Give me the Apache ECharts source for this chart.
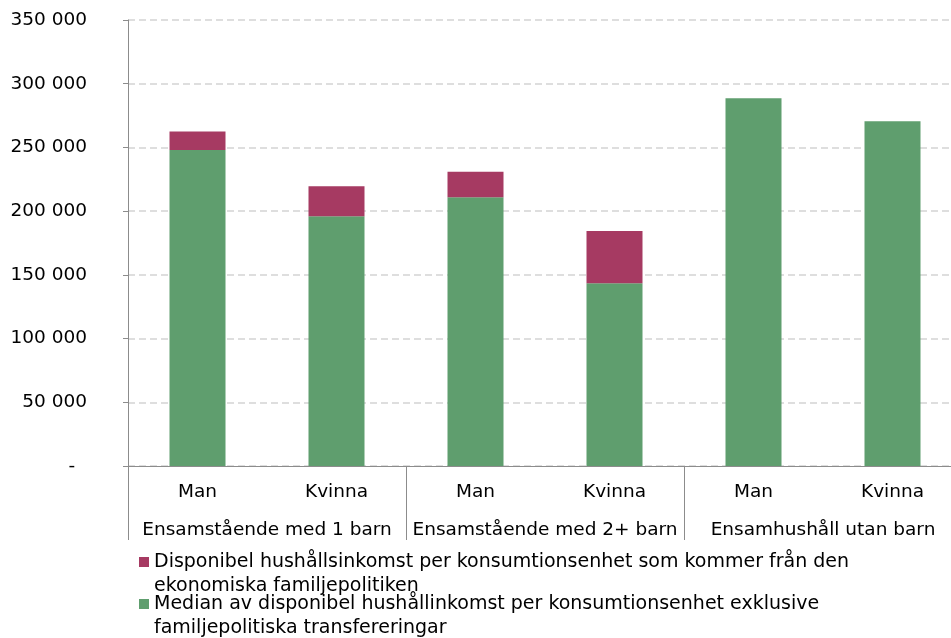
<!DOCTYPE html>
<html>
<head>
<meta charset="utf-8">
<script src="https://cdn.jsdelivr.net/npm/echarts@6/dist/echarts.min.js"></script>
<style>
  html, body { margin: 0; padding: 0; background: #fff; overflow: hidden; }
  /* a bit wider than the window: the reference plot runs past the right edge */
  #chart { width: 962px; height: 638px; }
</style>
</head>
<body>
<div id="chart"></div>
<script>
// data
const categories = ['Man', 'Kvinna', 'Man', 'Kvinna', 'Man', 'Kvinna']
const groups = ['Ensamstående med 1 barn', 'Ensamstående med 2+ barn', 'Ensamhushåll utan barn']
const seriesNames = [
  'Disponibel hushållsinkomst per konsumtionsenhet som kommer från den ekonomiska familjepolitiken',
  'Median av disponibel hushållinkomst per konsumtionsenhet exklusive familjepolitiska transfereringar'
]
const legendLabels = [
  'Disponibel hushållsinkomst per konsumtionsenhet som kommer från den\nekonomiska familjepolitiken',
  'Median av disponibel hushållinkomst per konsumtionsenhet exklusive\nfamiljepolitiska transfereringar'
]
const familyPolicy = [14500, 23500, 20000, 41000, 0, 0]
const medianExcl = [248000, 196000, 211000, 143500, 288500, 270500]

const font = 'DejaVu Sans'
const axisGrey = '#8c8c8c'

function fmt(v) {
  if (v === 0) return '-  '
  return String(v).replace(/\B(?=(\d{3})+(?!\d))/g, ' ')
}

const chart = echarts.init(document.getElementById('chart'))
chart.setOption({
  animation: false,
  textStyle: { fontFamily: font },
  grid: { left: 128, right: 0, top: 20, bottom: 172 },
  legend: {
    orient: 'vertical',
    left: 139,
    top: 526,
    height: 200,
    padding: 0,
    itemWidth: 10,
    itemHeight: 10,
    itemGap: -30,
    icon: 'rect',
    selectedMode: false,
    data: [seriesNames[0], seriesNames[1]],
    // leading blank line keeps the first text line level with the icon
    formatter: name => '\n' + legendLabels[seriesNames.indexOf(name)],
    textStyle: { fontFamily: font, fontSize: 19, lineHeight: 24, color: '#000' }
  },
  xAxis: [
    {
      type: 'category',
      data: categories,
      axisLine: { lineStyle: { color: axisGrey, width: 1 } },
      axisTick: { show: false },
      axisLabel: { margin: 17, fontSize: 18.5, color: '#000', fontFamily: font }
    },
    {
      type: 'category',
      data: groups,
      position: 'bottom',
      axisLine: { show: false },
      axisTick: { show: true, interval: 0, length: 74, lineStyle: { color: axisGrey } },
      axisLabel: { margin: 55, fontSize: 18.5, color: '#000', fontFamily: font, interval: 0 },
      splitLine: { show: false }
    }
  ],
  yAxis: {
    type: 'value',
    min: 0,
    max: 350000,
    interval: 50000,
    axisLine: { show: true, lineStyle: { color: axisGrey } },
    axisTick: { show: true, length: 5, lineStyle: { color: axisGrey } },
    axisLabel: { margin: 41, fontSize: 18.5, color: '#000', fontFamily: font, formatter: fmt },
    splitLine: { lineStyle: { color: '#d4d4d4', width: 1.5, type: [7, 4] } }
  },
  series: [
    {
      name: seriesNames[1],
      type: 'bar',
      stack: 'total',
      barWidth: 56,
      data: medianExcl,
      itemStyle: { color: '#5F9E6E' }
    },
    {
      name: seriesNames[0],
      type: 'bar',
      stack: 'total',
      barWidth: 56,
      data: familyPolicy,
      itemStyle: { color: '#A63A62' }
    }
  ]
})
</script>
</body>
</html>
